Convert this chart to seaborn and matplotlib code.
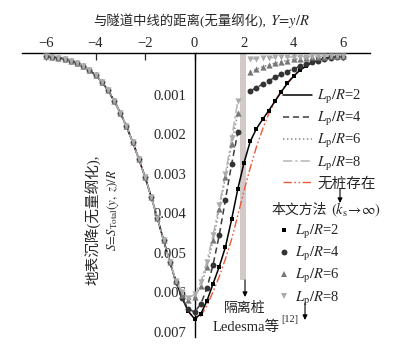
import numpy as np
import pandas as pd
import matplotlib
matplotlib.use('Agg')
import matplotlib.pyplot as plt
import seaborn as sns
from matplotlib.lines import Line2D

sns.set_style('white')
plt.rcParams['font.family'] = ['Liberation Serif', 'Noto Sans CJK SC']
plt.rcParams['mathtext.fontset'] = 'stix'
plt.rcParams['axes.unicode_minus'] = True

# Y = y/R sample positions
y_left = np.arange(-6.0, -0.99, 0.25)     # -6.0 ... -1.0
y_right = np.arange(-0.75, 6.01, 0.25)    # -0.75 ... 6.0

# settlement for Y <= -1 (all cases coincide there)
s_left = [0.00002, 0.00004, 0.00006, 0.00009, 0.00013, 0.00019, 0.00027, 0.00037,
          0.00050, 0.00067, 0.00088, 0.00115, 0.00145, 0.00180, 0.00219, 0.00262,
          0.00308, 0.00358, 0.00412, 0.00468, 0.00522]

# settlement for Y >= -0.75, nan = inside the pile
s_nopile = [0.00572, 0.00615, 0.00648, 0.00668, 0.00660, 0.00634, 0.00598, 0.00560,
            0.00515, 0.00465, 0.00405, 0.00343, 0.00285, 0.00232, 0.00187, 0.00148,
            0.00116, 0.00090, 0.00069, 0.00052, 0.00038, 0.00027, 0.00018, 0.00012,
            0.00008, 0.00005, 0.00003, 0.00002]
s_lp2 = [0.00572, 0.00615, 0.00648, 0.00667, 0.00655, 0.00622, 0.00578, 0.00535,
         0.00485, 0.00415, 0.00338, 0.00272, 0.00218, 0.00186, 0.00162, 0.00140,
         0.00116, 0.00093, 0.00071, 0.00053, 0.00038, 0.00027, 0.00018, 0.00012,
         0.00008, 0.00005, 0.00003, 0.00002]
s_lp4 = [0.00575, 0.00615, 0.00642, 0.00650, 0.00630, 0.00590, 0.00530, 0.00455,
         0.00365, 0.00275, 0.00195, np.nan, 0.00090, 0.00082, 0.00073, 0.00064,
         0.00056, 0.00048, 0.00041, 0.00034, 0.00028, 0.00022, 0.00017, 0.00013,
         0.00010, 0.00007, 0.00005, 0.00003]
s_lp6 = [0.00572, 0.00606, 0.00620, 0.00612, 0.00585, 0.00535, 0.00468, 0.00390,
         0.00308, 0.00225, 0.00145, np.nan, 0.00042, 0.00035, 0.00029, 0.00024,
         0.00020, 0.00016, 0.00013, 0.00010, 0.00008, 0.00006, 0.00005, 0.00004,
         0.00003, 0.00002, 0.00002, 0.00001]
s_lp8 = [0.00570, 0.00600, 0.00615, 0.00605, 0.00575, 0.00522, 0.00455, 0.00380,
         0.00300, 0.00210, 0.00115, np.nan, 0.00009, 0.00008, 0.00007, 0.00006,
         0.00005, 0.00005, 0.00004, 0.00004, 0.00003, 0.00003, 0.00002, 0.00002,
         0.00002, 0.00001, 0.00001, 0.00001]

x_ticks = [-6, -4, -2, 0, 2, 4, 6]
y_ticks = [0.001, 0.002, 0.003, 0.004, 0.005, 0.006, 0.007]
pile_span = (1.85, 2.1)

cases = [
    ('lp2', s_lp2, 'black', '-', 's', 'black', 12),
    ('lp4', s_lp4, '#3c3c3c', (0, (4, 2.5)), 'o', '#333333', 18),
    ('lp6', s_lp6, '#8a8a8a', (0, (1, 1.6)), '^', '#777777', 20),
    ('lp8', s_lp8, '#b4b4b4', (0, (6, 2, 1.5, 2)), 'v', '#ababab', 20),
]


def fx(px):
    return px / 403


def fy(py):
    return 1 - py / 352


fig = plt.figure(figsize=(4.03, 3.52), dpi=100)
ax = fig.add_axes([fx(22), fy(336.6), fx(370) - fx(22), fy(53) - fy(336.6)])

yy = np.concatenate([y_left, y_right])

ax.fill_betweenx([-0.0001, 0.00568], pile_span[0], pile_span[1], color='#d2c9c9', lw=0, zorder=1)

df0 = pd.DataFrame({'Y': yy, 'S': np.concatenate([s_left, s_nopile])})
sns.lineplot(data=df0, x='Y', y='S', ax=ax, color='#ee5a36', lw=1.0,
             linestyle=(0, (6, 1.8, 1.2, 1.8, 1.2, 1.8)), zorder=2)

for name, vals, lc, ls, mk, mc, ms in cases:
    df = pd.DataFrame({'Y': yy, 'S': np.concatenate([s_left, vals])}).dropna()
    if name == 'lp2':
        parts = [df]
    else:
        parts = [df[df['Y'] < 2], df[df['Y'] > 2]]
    for part in parts:
        sns.lineplot(data=part, x='Y', y='S', ax=ax, color=lc, lw=1.1,
                     linestyle=ls, zorder=3)
    sns.scatterplot(data=df, x='Y', y='S', ax=ax, marker=mk, color=mc, s=ms,
                    linewidth=0, zorder=4)

ax.set_xlim(-6.97, 7.09)
ax.set_ylim(0.00712, -0.00006)
ax.set_xlabel('')
ax.set_ylabel('')

ax.xaxis.tick_top()
ax.set_xticks(x_ticks)
ax.set_xticklabels(['\u2212' + str(-v) if v < 0 else str(v) for v in x_ticks])
ax.set_yticks(y_ticks)
ax.set_yticklabels(['%.3f' % v for v in y_ticks])
ax.tick_params(axis='x', direction='in', length=5, width=0.9, pad=2, labelsize=10.5,
               top=True, bottom=False)
ax.tick_params(axis='y', direction='in', length=5, width=0.9, pad=6, labelsize=10.5)
for sp in ['right', 'bottom']:
    ax.spines[sp].set_visible(False)
ax.spines['left'].set_position(('data', 0))
ax.spines['left'].set_bounds(-0.00006, 0.00712)
ax.spines['top'].set_linewidth(1.0)
ax.spines['left'].set_linewidth(1.0)
for sp in ['top', 'left']:
    ax.spines[sp].set_color('black')

# axis titles
fig.text(fx(266), fy(21), '与隧道中线的距离(无量纲化),', ha='right', va='center', fontsize=9.6)
fig.text(fx(270), fy(21), r'$Y\!=\!y/R$', ha='left', va='center', fontsize=10.5)
fig.text(fx(93), fy(220), '地表沉降(无量纲化),', rotation=90, ha='center', va='center', fontsize=10.5)
fig.text(fx(113), fy(210), r'$S\!=\!S_{\mathrm{Total}}(y,\ z)/R$', rotation=90,
         ha='center', va='center', fontsize=9.2)

# legend: lines (Ledesma)
line_handles = [
    Line2D([], [], color='black', lw=1.1, ls='-'),
    Line2D([], [], color='#3c3c3c', lw=1.1, ls=(0, (4, 2.5))),
    Line2D([], [], color='#8a8a8a', lw=1.1, ls=(0, (1, 1.6))),
    Line2D([], [], color='#b4b4b4', lw=1.1, ls=(0, (6, 2, 1.5, 2))),
    Line2D([], [], color='#ee5a36', lw=1.0, ls=(0, (6, 1.8, 1.2, 1.8, 1.2, 1.8))),
]
line_labels = [r'$L_{\mathrm{p}}/R$=2', r'$L_{\mathrm{p}}/R$=4', r'$L_{\mathrm{p}}/R$=6',
               r'$L_{\mathrm{p}}/R$=8', '无桩存在']
fig.legend(handles=line_handles, labels=line_labels, loc='upper left',
           bbox_to_anchor=(fx(283), fy(88)), frameon=False, borderpad=0,
           borderaxespad=0, handlelength=2.0, handletextpad=0.35,
           labelspacing=0.29, fontsize=10.5)

# legend: markers (this method)
mark_handles = [Line2D([], [], ls='none', marker=c[4], color=c[5],
                       markersize=np.sqrt(c[6]), markeredgewidth=0) for c in cases]
mark_labels = line_labels[:4]
fig.legend(handles=mark_handles, labels=mark_labels, loc='upper left',
           bbox_to_anchor=(fx(277), fy(223)), frameon=False, borderpad=0,
           borderaxespad=0, handlelength=1.0, handletextpad=0.25,
           labelspacing=0.29, fontsize=10.5)

fig.text(fx(272), fy(210), '本文方法', ha='left', va='center', fontsize=10)
fig.text(fx(331), fy(210), r'$(k_{\mathrm{s}}\!\rightarrow\!\infty)$', ha='left',
         va='center', fontsize=10.5)

arrow = dict(arrowstyle='-|>', color='black', lw=0.8, mutation_scale=7,
             shrinkA=0, shrinkB=0)
ax.annotate('', xy=(fx(340), fy(203)), xytext=(fx(340), fy(189)),
            xycoords='figure fraction', textcoords='figure fraction', arrowprops=arrow)
ax.annotate('', xy=(fx(305), fy(320)), xytext=(fx(305), fy(303)),
            xycoords='figure fraction', textcoords='figure fraction', arrowprops=arrow)
ax.annotate('', xy=(fx(245), fy(297)), xytext=(fx(245), fy(280)),
            xycoords='figure fraction', textcoords='figure fraction', arrowprops=arrow)

fig.text(fx(245), fy(308), '隔离桩', ha='center', va='center', fontsize=10)
fig.text(fx(213), fy(327), 'Ledesma等', ha='left', va='center', fontsize=10.5)
fig.text(fx(281), fy(319), '[12]', ha='left', va='center', fontsize=7.5)

fig.savefig('out.png', dpi=100)
